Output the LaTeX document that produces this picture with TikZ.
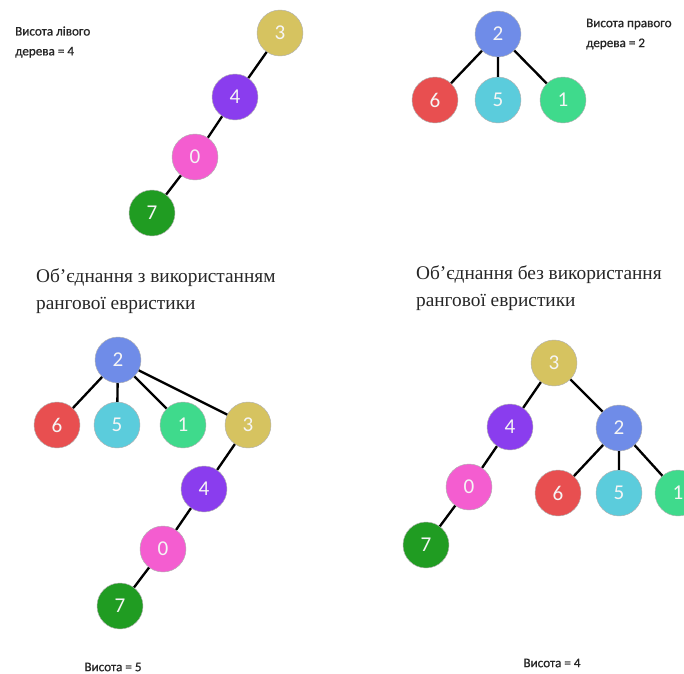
\documentclass[tikz,border=0pt]{standalone}
\usepackage{fontspec}
\setmainfont{Liberation Serif}
\newfontfamily\calibri{Carlito}
\newfontfamily\calibrisemi{Carlito}[FakeBold=0.8]
\usetikzlibrary{positioning}
\definecolor{gold}{HTML}{D6C360}
\definecolor{violet}{HTML}{8A3DEE}
\definecolor{pink}{HTML}{F45DD0}
\definecolor{grass}{HTML}{209C22}
\definecolor{periw}{HTML}{6F8CE8}
\definecolor{redc}{HTML}{E84F50}
\definecolor{cyanc}{HTML}{5BCCDC}
\definecolor{mint}{HTML}{3FDA8C}
\tikzset{
x=0.03cm, y=-0.03cm, % one unit is one pixel of the picture
vert/.style={circle, draw=gray!60, thin, minimum size=1.38cm, inner sep=0pt, text=white!92!gray, font=\calibri\fontsize{18}{18}\selectfont}, % a tree element
link/.style={line width=2pt, black}, % edges of the trees
note/.style={align=left, text=black!85, font=\calibrisemi\fontsize{11.2}{17}\selectfont}, % heights
title/.style={align=left, anchor=west, text=black!85, font=\fontsize{16.5}{23}\selectfont}, % captions
}
\begin{document}
\begin{tikzpicture}
\useasboundingbox (0,0) rectangle (684,673);
% left tree
\node[vert, fill=gold] (l3) at (280,33) {3};
\node[vert, fill=violet] (l4) at (235,97) {4};
\node[vert, fill=pink] (l0) at (195,157) {0};
\node[vert, fill=grass] (l7) at (152,213) {7};
\draw[link] (l3) -- (l4) (l4) -- (l0) (l0) -- (l7);
\node[note, anchor=west] (lnote) at (11,42) {Висота лівого\\дерева = 4};
% right tree
\node[vert, fill=periw] (r2) at (498,34) {2};
\node[vert, fill=redc] (r6) at (435,100) {6};
\node[vert, fill=cyanc] (r5) at (498,100) {5};
\node[vert, fill=mint] (r1) at (563,100) {1};
\draw[link] (r2) -- (r6) (r2) -- (r5) (r2) -- (r1);
\node[note, anchor=west] (rnote) at (582,34) {Висота правого\\дерева = 2};
% captions
\node[title] (tleft) at (32,291) {Об’єднання з використанням\\рангової евристики};
\node[title] (tright) at (412,288) {Об’єднання без використання\\рангової евристики};
% union by rank
\node[vert, fill=periw] (a2) at (118,360) {2};
\node[vert, fill=redc] (a6) at (57,425) {6};
\node[vert, fill=cyanc] (a5) at (117,425) {5};
\node[vert, fill=mint] (a1) at (183,425) {1};
\node[vert, fill=gold] (a3) at (248,425) {3};
\node[vert, fill=violet] (a4) at (204,489) {4};
\node[vert, fill=pink] (a0) at (163,549) {0};
\node[vert, fill=grass] (a7) at (120,606) {7};
\draw[link] (a2) -- (a6) (a2) -- (a5) (a2) -- (a1) (a2) -- (a3)
    (a3) -- (a4) (a4) -- (a0) (a0) -- (a7);
\node[note] (anote) at (113,667) {Висота = 5};
% union without rank
\node[vert, fill=gold] (b3) at (554,363) {3};
\node[vert, fill=violet] (b4) at (510,427) {4};
\node[vert, fill=periw] (b2) at (619,428) {2};
\node[vert, fill=pink] (b0) at (469,487) {0};
\node[vert, fill=redc] (b6) at (558,493) {6};
\node[vert, fill=cyanc] (b5) at (619,493) {5};
\node[vert, fill=mint] (b1) at (678,493) {1};
\node[vert, fill=grass] (b7) at (426,545) {7};
\draw[link] (b3) -- (b4) (b3) -- (b2) (b4) -- (b0) (b0) -- (b7)
    (b2) -- (b6) (b2) -- (b5) (b2) -- (b1);
\node[note] (bnote) at (552,663) {Висота = 4};
\end{tikzpicture}
\end{document}
